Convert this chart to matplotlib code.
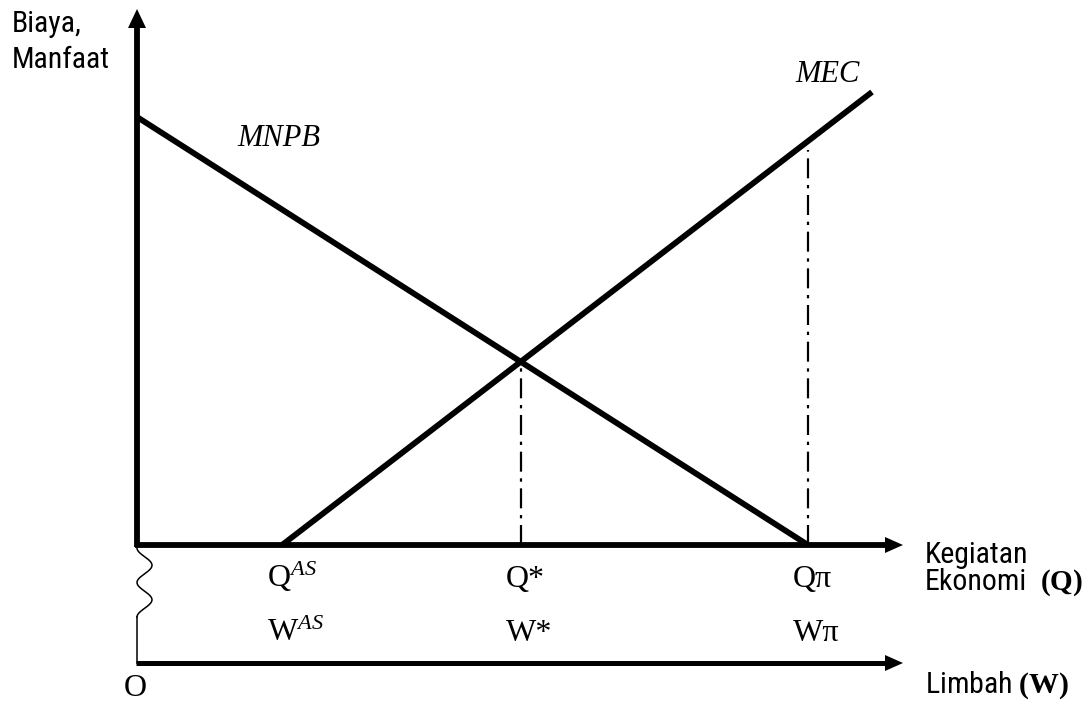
import numpy as np
import matplotlib
matplotlib.use('Agg')
import matplotlib.pyplot as plt
from matplotlib import font_manager

# pick a narrow sans if there is one
names = {f.name for f in font_manager.fontManager.ttflist}
sans = 'Liberation Sans'
sans_size = 18
for cand in ['Liberation Sans Narrow', 'Arial Narrow', 'Roboto Condensed',
             'Open Sans Condensed', 'DejaVu Sans Condensed']:
    if cand in names:
        sans = cand
        sans_size = 21.5
        break
serif = 'Liberation Serif'

plt.rcParams['mathtext.fontset'] = 'custom'
plt.rcParams['mathtext.rm'] = serif
plt.rcParams['mathtext.it'] = serif + ':italic'
plt.rcParams['mathtext.bf'] = serif + ':bold'

# curves (Q on x, cost/benefit on y)
mnpb_q = [0, 671]
mnpb_v = [428, 0]
mec_q = [145, 735]
mec_v = [0, 453]

# points on the Q axis
q_as = 145
q_pi = 671
q_pi_top = 395  # top of the dash-dot line at Q pi

q_labels = ['Q$^{AS}$', 'Q*', 'Q\u03c0']
w_labels = ['W$^{AS}$', 'W*', 'W\u03c0']

# intersection MNPB / MEC -> Q*
a1, b1 = np.polyfit(mnpb_q, mnpb_v, 1)
a2, b2 = np.polyfit(mec_q, mec_v, 1)
q_star = (b2 - b1) / (a1 - a2)
v_star = a1 * q_star + b1
q_marks = [q_as, q_star, q_pi]

fig = plt.figure(figsize=(10.88, 7.02), dpi=100)
ax = fig.add_axes([0, 0, 1, 1])
ax.set_xlim(-137, 951)
ax.set_ylim(-157, 545)
ax.axis('off')

lw = 4.2
w_axis_y = -118
tip_x = 766

# axes with arrow heads
ax.plot([0, 0], [-2, 520], color='black', lw=lw, solid_capstyle='butt')
ax.fill([-9, 9, 0], [517, 517, 536], color='black', lw=0)
ax.plot([-2, 750], [0, 0], color='black', lw=lw, solid_capstyle='butt')
ax.fill([748, 748, tip_x], [-8, 8, 0], color='black', lw=0)
ax.plot([-1, 750], [w_axis_y, w_axis_y], color='black', lw=3.6, solid_capstyle='butt')
ax.fill([748, 748, tip_x], [w_axis_y - 8, w_axis_y + 8, w_axis_y], color='black', lw=0)

# break mark between the two horizontal axes
t = np.linspace(0, 1, 200)
ax.plot(7.5 * (1 - np.cos(4 * np.pi * t)), -3 - 69 * t, color='black', lw=1.1)
ax.plot([0, 0], [-72, w_axis_y], color='black', lw=1.1)

# curves
ax.plot(mnpb_q, mnpb_v, color='black', lw=lw, solid_capstyle='butt')
ax.plot(mec_q, mec_v, color='black', lw=lw, solid_capstyle='butt')

# dash-dot guides
dd = (0, (9, 3, 1.5, 3))
ax.plot([q_star, q_star], [0, v_star], color='black', lw=1.6, linestyle=dd)
ax.plot([q_pi, q_pi], [0, q_pi_top], color='black', lw=1.6, linestyle=dd)

# curve names
ax.text(142, 406, 'MNPB', family=serif, style='italic', fontsize=22, ha='center', va='center')
ax.text(691, 470, 'MEC', family=serif, style='italic', fontsize=22, ha='center', va='center')

# Q and W labels (left edge a bit before the point)
for q, ql, wl in zip(q_marks, q_labels, w_labels):
    ax.text(q - 15, -42, ql, family=serif, fontsize=23, ha='left', va='baseline')
    ax.text(q - 15, -96, wl, family=serif, fontsize=23, ha='left', va='baseline')

ax.text(-2, -151, 'O', family=serif, fontsize=23, ha='center', va='baseline')

# axis titles
ax.text(-125, 513, 'Biaya,', family=sans, fontsize=sans_size, ha='left', va='baseline')
ax.text(-125, 477, 'Manfaat', family=sans, fontsize=sans_size, ha='left', va='baseline')
ax.text(788, -18, 'Kegiatan', family=sans, fontsize=sans_size, ha='left', va='baseline')
ax.text(788, -45, 'Ekonomi', family=sans, fontsize=sans_size, ha='left', va='baseline')
ax.text(903, -45, '$\\mathbf{(Q)}$', fontsize=21, ha='left', va='baseline')
ax.text(788, -148, 'Limbah $\\mathbf{(W)}$', family=sans, fontsize=sans_size, ha='left', va='baseline')

fig.savefig('out.png', dpi=100)
